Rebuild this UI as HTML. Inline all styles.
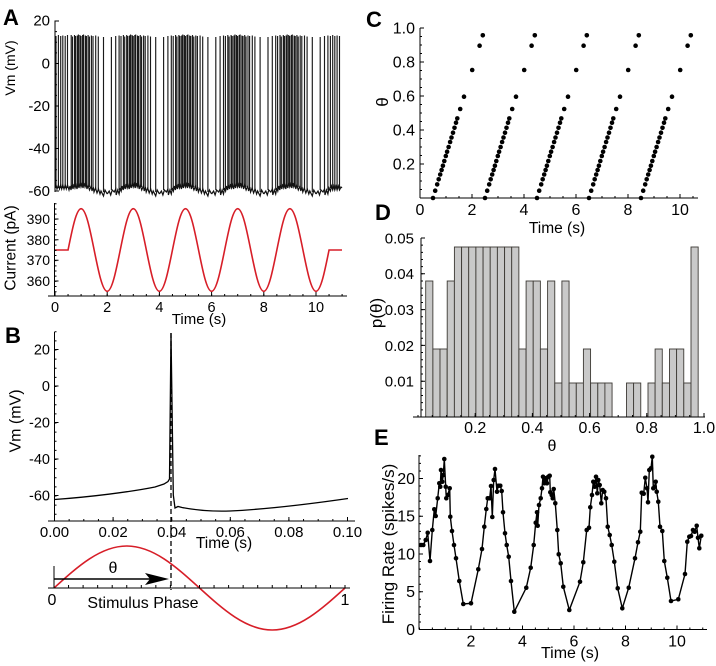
<!DOCTYPE html>
<html><head><meta charset="utf-8"><style>
html,body{margin:0;padding:0;background:#fff;}
svg{display:block;}
text{font-family:"Liberation Sans",Arial,sans-serif;fill:#000;}
.b{font-weight:bold;font-size:22px;}
</style></head><body>
<svg width="716" height="666" viewBox="0 0 716 666" xmlns="http://www.w3.org/2000/svg">
<rect width="716" height="666" fill="#fff"/>
<defs>
<path id="cyc" d="M4.2,190V37M8.5,191V36M11.9,190V35.5M13.8,188V36M16.2,187V35M17.5,187V36.5M19.5,186V35M20.6,186V36M22.3,186V35.5M23.4,185V34.5M24.9,185V35M26,185V36M27.6,185V35M28.5,185V34.5M30.3,186V35.5M31.4,186V36M33.1,186V35M34.4,187V36.5M36.4,187V35.5M38,188V36M40.7,189V35.5M43.3,190V36.5M48.5,192V37"/>
<path id="bl" d="M0,194L2,191L3.5,195L5,190L7,192L8.5,189L9,195L10.5,190L11.9,194L13,188L14,191L15,186L16,190L17,185L18,189L19,184L20,188L21,185L22,189L23,184L24,188L25,183L26,187L27,184L28,188L29,183L30,187L31,184L32,189L33,185L34.5,190L36.2,186L37,191L38.2,187L39,192L40.5,188L42,193L43.5,189L45,194L46,191L48.5,196L50,190L52.2,194"/>
<g id="cd">
<circle cx="0" cy="198" r="2.3"/><circle cx="2.2" cy="190.7" r="2.3"/><circle cx="4.2" cy="184.4" r="2.3"/><circle cx="5.7" cy="179.3" r="2.3"/><circle cx="7.2" cy="174.5" r="2.3"/><circle cx="8.6" cy="170" r="2.3"/><circle cx="9.9" cy="165.7" r="2.3"/><circle cx="11.3" cy="161" r="2.3"/><circle cx="12.8" cy="156" r="2.3"/><circle cx="14.1" cy="151.7" r="2.3"/><circle cx="15.6" cy="147" r="2.3"/><circle cx="17.1" cy="142" r="2.3"/><circle cx="18.5" cy="137.5" r="2.3"/><circle cx="20" cy="132.7" r="2.3"/><circle cx="21.5" cy="127.8" r="2.3"/><circle cx="23" cy="122.7" r="2.3"/><circle cx="24.3" cy="118.4" r="2.3"/><circle cx="27.2" cy="109" r="2.3"/><circle cx="31" cy="96.7" r="2.3"/><circle cx="39.2" cy="70" r="2.3"/><circle cx="46.6" cy="45.7" r="2.3"/><circle cx="49.8" cy="35.3" r="2.3"/>
</g>
<marker id="m" viewBox="0 0 6 6" refX="3" refY="3" markerWidth="4.6" markerHeight="4.6" markerUnits="userSpaceOnUse"><circle cx="3" cy="3" r="3" fill="#000"/></marker>
</defs>

<!-- ===== Panel A top ===== -->
<text class="b" x="3" y="25">A</text>
<g stroke="#1a1a1a" stroke-width="1.15" fill="none">
<path transform="translate(55,0)" d="M1,188V36M3.4,188V35M5.7,188V36M7.8,188V35.5M10.2,188V36M12.5,188V35M16.2,187V35M17.5,187V36.5M19.5,186V35M20.6,186V36M22.3,186V35.5M23.4,185V34.5M24.9,185V35M26,185V36M27.6,185V35M28.5,185V34.5M30.3,186V35.5M31.4,186V36M33.1,186V35M34.4,187V36.5M36.4,187V35.5M38,188V36M40.7,189V35.5M43.3,190V36.5M48.5,192V37"/>
<use href="#cyc" x="107.2"/><use href="#cyc" x="159.4"/><use href="#cyc" x="211.6"/><use href="#cyc" x="263.8"/>
<path transform="translate(316,0)" d="M4.2,190V37M8.5,191V36M11.9,190V35.5M14.4,188V36M16.7,188V35M18.8,188V36M21.1,188V35.5M23.5,188V36"/>
</g>
<g stroke="#111" stroke-width="1.2" fill="none">
<path transform="translate(55,0)" d="M0,188L1,185L2,189L3.4,185L4.5,189L5.7,185L6.7,189L7.8,185L9,189L10.2,185L11.3,189L12.5,185L14,190L15,186L16,190L17,185L18,189L19,184L20,188L21,185L22,189L23,184L24,188L25,183L26,187L27,184L28,188L29,183L30,187L31,184L32,189L33,185L34.5,190L36.2,186L37,191L38.2,187L39,192L40.5,188L42,193L43.5,189L45,194L46,191L48.5,196L50,190L52.2,194"/>
<use href="#bl" x="107.2"/><use href="#bl" x="159.4"/><use href="#bl" x="211.6"/><use href="#bl" x="263.8"/>
<path transform="translate(316,0)" d="M0,194L2,191L3.5,195L5,190L7,192L8.5,189L9,195L10.5,190L11.9,194L13,188L14.4,191L15.5,186L16.7,190L17.8,186L18.8,190L20,186L21.1,190L22.3,186L23.5,190L25,187L26,188"/>
</g>
<g stroke="#000" fill="none" stroke-width="1">
<path d="M55,20.5V192M55,21h4M55,63.5h4M55,106h4M55,148.5h4M55,191h4"/>
<path d="M56,20.5V192" stroke-width="2" stroke-dasharray="1 9.625"/>
</g>
<g font-size="15" text-anchor="end">
<text x="50" y="25.5">20</text><text x="50" y="68.5">0</text><text x="50" y="111">-20</text><text x="50" y="153.5">-40</text><text x="50" y="196">-60</text>
</g>
<text font-size="14" transform="translate(15,68) rotate(-90)" text-anchor="middle">Vm (mV)</text>

<!-- ===== Panel A bottom ===== -->
<path d="M55,250H68.05c4.256,-21.16 8.327,-41.3 13.05,-41.3c4.723,0 8.794,20.14 13.05,41.3c4.256,21.16 8.327,41.3 13.05,41.3c4.723,0 8.794,-20.14 13.05,-41.3c4.256,-21.16 8.327,-41.3 13.05,-41.3c4.723,0 8.794,20.14 13.05,41.3c4.256,21.16 8.327,41.3 13.05,41.3c4.723,0 8.794,-20.14 13.05,-41.3c4.256,-21.16 8.327,-41.3 13.05,-41.3c4.723,0 8.794,20.14 13.05,41.3c4.256,21.16 8.327,41.3 13.05,41.3c4.723,0 8.794,-20.14 13.05,-41.3c4.256,-21.16 8.327,-41.3 13.05,-41.3c4.723,0 8.794,20.14 13.05,41.3c4.256,21.16 8.327,41.3 13.05,41.3c4.723,0 8.794,-20.14 13.05,-41.3c4.256,-21.16 8.327,-41.3 13.05,-41.3c4.723,0 8.794,20.14 13.05,41.3c4.256,21.16 8.327,41.3 13.05,41.3c4.723,0 8.794,-20.14 13.05,-41.3H342" fill="none" stroke="#d71e28" stroke-width="1.6"/>
<g stroke="#000" fill="none" stroke-width="1">
<path d="M54.5,203V296M48,296H347M54.5,219h4M54.5,239.7h4M54.5,260.3h4M54.5,281h4"/>
<path d="M55,296v-4M107.2,296v-4M159.4,296v-4M211.6,296v-4M263.8,296v-4M316,296v-4"/>
<path d="M55.5,203.3V296" stroke-width="2" stroke-dasharray="1 4.17"/>
<path d="M54.5,295H347" stroke-width="2" stroke-dasharray="1 12.05"/>
</g>
<g font-size="14" text-anchor="end">
<text x="50" y="224">390</text><text x="50" y="245">380</text><text x="50" y="265">370</text><text x="50" y="286">360</text>
</g>
<g font-size="14.5" text-anchor="middle">
<text x="55" y="312">0</text><text x="107.2" y="312">2</text><text x="159.4" y="312">4</text><text x="211.6" y="312">6</text><text x="263.8" y="312">8</text><text x="316" y="312">10</text>
</g>
<text font-size="15" x="199" y="324" text-anchor="middle">Time (s)</text>
<text font-size="15.5" transform="translate(15.5,248) rotate(-90)" text-anchor="middle">Current (pA)</text>

<!-- ===== Panel B ===== -->
<text class="b" x="5" y="343">B</text>
<path d="M54.5,499.5C90,497 130,492 155,487L164,484L168,481.5L169.5,479L171,333L173.3,495L175,508L178,506.5L182,507.5C200,511 215,511.5 230,511C270,509 310,504 348,498.5" fill="none" stroke="#000" stroke-width="1.3"/>
<path d="M171,333V590" stroke="#000" stroke-width="1.3" stroke-dasharray="5 3"/>
<g stroke="#000" fill="none" stroke-width="1">
<path d="M54.5,332V521M48,521H355M54.5,349.5h4M54.5,386h4M54.5,422.5h4M54.5,459h4M54.5,495.5h4"/>
<path d="M54.5,521v-4M113.1,521v-4M171.7,521v-4M230.3,521v-4M288.9,521v-4M347.5,521v-4"/>
<path d="M55.5,331.3V521" stroke-width="2" stroke-dasharray="1 8.125"/>
<path d="M54,520H350" stroke-width="2" stroke-dasharray="1 13.65"/>
</g>
<g font-size="14.5" text-anchor="end">
<text x="50" y="354.5">20</text><text x="50" y="391">0</text><text x="50" y="427.5">-20</text><text x="50" y="464">-40</text><text x="50" y="500.5">-60</text>
</g>
<g font-size="15" text-anchor="middle">
<text x="54.5" y="537">0.00</text><text x="113.1" y="537">0.02</text><text x="171.7" y="537">0.04</text><text x="230.3" y="537">0.06</text><text x="288.9" y="537">0.08</text><text x="347.5" y="537">0.10</text>
</g>
<text font-size="15.5" x="224" y="548" text-anchor="middle">Time (s)</text>
<text font-size="16" transform="translate(20.5,421) rotate(-90)" text-anchor="middle">Vm (mV)</text>

<!-- phase diagram -->
<path d="M54,588c23.72,-21.52 46.42,-42 72.75,-42c26.33,0 49.03,20.48 72.75,42c23.72,21.52 46.42,42 72.75,42c26.33,0 49.03,-20.48 72.75,-42" fill="none" stroke="#d71e28" stroke-width="1.6"/>
<g stroke="#000" fill="none">
<path d="M48,588H350M54,566V588" stroke-width="1"/>
<path d="M53.5,586.5H350" stroke-width="3" stroke-dasharray="1 13.55"/>
<path d="M54,579H150" stroke-width="1.6"/>
</g>
<polygon points="145,573 169,579 145,585 150,579" fill="#000"/>
<text font-size="16" x="113" y="573" text-anchor="middle">θ</text>
<text font-size="16" x="52" y="605" text-anchor="middle">0</text>
<text font-size="16" x="345" y="605" text-anchor="middle">1</text>
<text font-size="16" x="143" y="608" text-anchor="middle">Stimulus Phase</text>

<!-- ===== Panel C ===== -->
<text class="b" x="366" y="27">C</text>
<g fill="#000">
<use href="#cd" x="433"/><use href="#cd" x="485"/><use href="#cd" x="537"/><use href="#cd" x="589"/><use href="#cd" x="641"/>
</g>
<g stroke="#000" fill="none" stroke-width="1">
<path d="M420,28V198M420,198H698M420,28h4M420,62h4M420,96h4M420,130h4M420,164h4"/>
<path d="M420,198v-4M472,198v-4M524,198v-4M576,198v-4M628,198v-4M680,198v-4"/>
<path d="M421,27.5V198" stroke-width="2" stroke-dasharray="1 7.5"/>
<path d="M419.5,197H698" stroke-width="2" stroke-dasharray="1 12"/>
</g>
<g font-size="16" text-anchor="end">
<text x="415" y="33.5">1.0</text><text x="415" y="67.5">0.8</text><text x="415" y="101.5">0.6</text><text x="415" y="135.5">0.4</text><text x="415" y="169.5">0.2</text>
</g>
<g font-size="16" text-anchor="middle">
<text x="420" y="215">0</text><text x="472" y="215">2</text><text x="524" y="215">4</text><text x="576" y="215">6</text><text x="628" y="215">8</text><text x="680" y="215">10</text>
</g>
<text font-size="15.5" x="557" y="233" text-anchor="middle">Time (s)</text>
<text font-size="17" transform="translate(388,102) rotate(-90)" text-anchor="middle">θ</text>

<!-- ===== Panel D ===== -->
<text class="b" x="375" y="220">D</text>
<g fill="#c9c9c9" stroke="#3d3a35" stroke-width="0.9">
<rect x="425.7" y="281" width="7.17" height="136"/>
<rect x="432.9" y="349" width="7.17" height="68"/>
<rect x="440.0" y="349" width="7.17" height="68"/>
<rect x="447.2" y="281" width="7.17" height="136"/>
<rect x="454.4" y="247" width="7.17" height="170"/>
<rect x="461.6" y="247" width="7.17" height="170"/>
<rect x="468.7" y="247" width="7.17" height="170"/>
<rect x="475.9" y="247" width="7.17" height="170"/>
<rect x="483.1" y="247" width="7.17" height="170"/>
<rect x="490.2" y="247" width="7.17" height="170"/>
<rect x="497.4" y="247" width="7.17" height="170"/>
<rect x="504.6" y="247" width="7.17" height="170"/>
<rect x="511.7" y="247" width="7.17" height="170"/>
<rect x="518.9" y="349" width="7.17" height="68"/>
<rect x="526.1" y="281" width="7.17" height="136"/>
<rect x="533.2" y="281" width="7.17" height="136"/>
<rect x="540.4" y="349" width="7.17" height="68"/>
<rect x="547.6" y="281" width="7.17" height="136"/>
<rect x="554.8" y="383" width="7.17" height="34"/>
<rect x="561.9" y="281" width="7.17" height="136"/>
<rect x="569.1" y="383" width="7.17" height="34"/>
<rect x="576.3" y="383" width="7.17" height="34"/>
<rect x="583.4" y="349" width="7.17" height="68"/>
<rect x="590.6" y="383" width="7.17" height="34"/>
<rect x="597.8" y="383" width="7.17" height="34"/>
<rect x="604.9" y="383" width="7.17" height="34"/>
<rect x="626.5" y="383" width="7.17" height="34"/>
<rect x="633.6" y="383" width="7.17" height="34"/>
<rect x="648.0" y="383" width="7.17" height="34"/>
<rect x="655.1" y="349" width="7.17" height="68"/>
<rect x="662.3" y="383" width="7.17" height="34"/>
<rect x="669.5" y="349" width="7.17" height="68"/>
<rect x="676.6" y="349" width="7.17" height="68"/>
<rect x="683.8" y="383" width="7.17" height="34"/>
<rect x="691.0" y="247" width="7.17" height="170"/>
</g>
<g stroke="#000" fill="none" stroke-width="1">
<path d="M421,238V417M413,417H705M421,238h4M421,273.8h4M421,309.6h4M421,345.4h4M421,381.2h4"/>
<path d="M475.2,417v-4M532.4,417v-4M589.6,417v-4M646.8,417v-4M704,417v-4"/>
<path d="M422,237.5V417" stroke-width="2" stroke-dasharray="1 6.16"/>
<path d="M417.5,416H705" stroke-width="2" stroke-dasharray="1 13.3"/>
</g>
<g font-size="15" text-anchor="end">
<text x="414" y="243.5">0.05</text><text x="414" y="279">0.04</text><text x="414" y="315">0.03</text><text x="414" y="351">0.02</text><text x="414" y="386.5">0.01</text>
</g>
<g font-size="16" text-anchor="middle">
<text x="475.2" y="433">0.2</text><text x="532.4" y="433">0.4</text><text x="589.6" y="433">0.6</text><text x="646.8" y="433">0.8</text><text x="704" y="433">1.0</text>
</g>
<text font-size="16" x="552" y="451" text-anchor="middle">θ</text>
<text font-size="17" transform="translate(382,313) rotate(-90)" text-anchor="middle">p(θ)</text>

<!-- ===== Panel E ===== -->
<text class="b" x="374" y="445">E</text>
<polyline fill="none" stroke="#000" stroke-width="1.4" marker-start="url(#m)" marker-mid="url(#m)" marker-end="url(#m)" points="421,545 423.3,545 425.7,540 427.7,532.7 430,561 432.3,530 434.3,509.3 435.7,516 437.7,498.3 439.3,483.3 440.3,486.7 441,470 442.3,481.7 443.3,475 444.3,459 445.7,486.7 446.3,498.3 447.7,495 449.7,488.3 450.3,516.7 452,531 454,545 456,558.3 459.3,581 463.3,604 471,603.3 478.3,569.3 482,549 484.3,526.7 486.3,509 487.7,498.3 489.7,498.3 491,486 492.3,517 493.7,480 495,469 497,491.7 498.3,485.7 500.3,485.7 501.7,491 503,512.3 505,533.3 506.7,545 508.7,556.7 511,581 514.3,611.7 526.3,587.7 530.7,567.7 533.7,545 535.7,522.7 537,512.3 537.7,525.7 539,505 540.7,498.3 542,488.3 543,476.7 544.3,483.3 545.7,478.3 547,483.3 548.3,476.7 549.7,475.7 550.3,492.3 551.7,495 552.7,498.3 553.7,489 555.3,503.3 557.3,530 558.7,554.3 560.7,563.3 563.3,586.7 569.3,610 580,581.7 583.3,562.3 586.7,530 589,527.7 590.3,507.3 592,495 593.3,481.7 594.7,486.7 596,476.7 597.3,493.3 598.3,480 599.7,485 601.3,503.3 602.7,490 604.3,491.7 606,498.3 607.7,526.7 609.7,535 611.7,545 614.3,561.7 617.7,588.3 622.3,608.3 628.7,587.7 635,558.3 638,542.3 640.3,531.7 641.7,492.7 643.7,493.7 645.3,477.7 647,488.3 648,502.3 649.3,470 651,468.3 652.3,456.7 653.3,488.3 654.7,486.7 655.7,481.7 656.7,491.7 658.3,501.7 660,526.7 662.3,531 664.3,561 667.3,577.7 671,601 678.3,599.3 685,574 687.3,541.7 689.3,536.7 691,536 693,530 694.7,531.7 696.7,525.7 698,537.7 699.3,548.3 701.3,535.7"/>
<g stroke="#000" fill="none" stroke-width="1">
<path d="M419,455V629.5M419,629.5H707M419,591.75h4M419,554h4M419,516.25h4M419,478.5h4"/>
<path d="M471,629.5v-4M522.5,629.5v-4M574,629.5v-4M625.5,629.5v-4M677,629.5v-4"/>
<path d="M420,455.35V630" stroke-width="2" stroke-dasharray="1 6.55"/>
<path d="M419,628.5H707" stroke-width="2" stroke-dasharray="1 11.875"/>
</g>
<g font-size="16" text-anchor="end">
<text x="415" y="635">0</text><text x="415" y="597">5</text><text x="415" y="559.5">10</text><text x="415" y="521.5">15</text><text x="415" y="484">20</text>
</g>
<g font-size="16" text-anchor="middle">
<text x="471" y="646.5">2</text><text x="522.5" y="646.5">4</text><text x="574" y="646.5">6</text><text x="625.5" y="646.5">8</text><text x="677" y="646.5">10</text>
</g>
<text font-size="16" x="570" y="658" text-anchor="middle">Time (s)</text>
<text font-size="17" transform="translate(394,544) rotate(-90)" text-anchor="middle">Firing Rate (spikes/s)</text>
</svg>
</body></html>
